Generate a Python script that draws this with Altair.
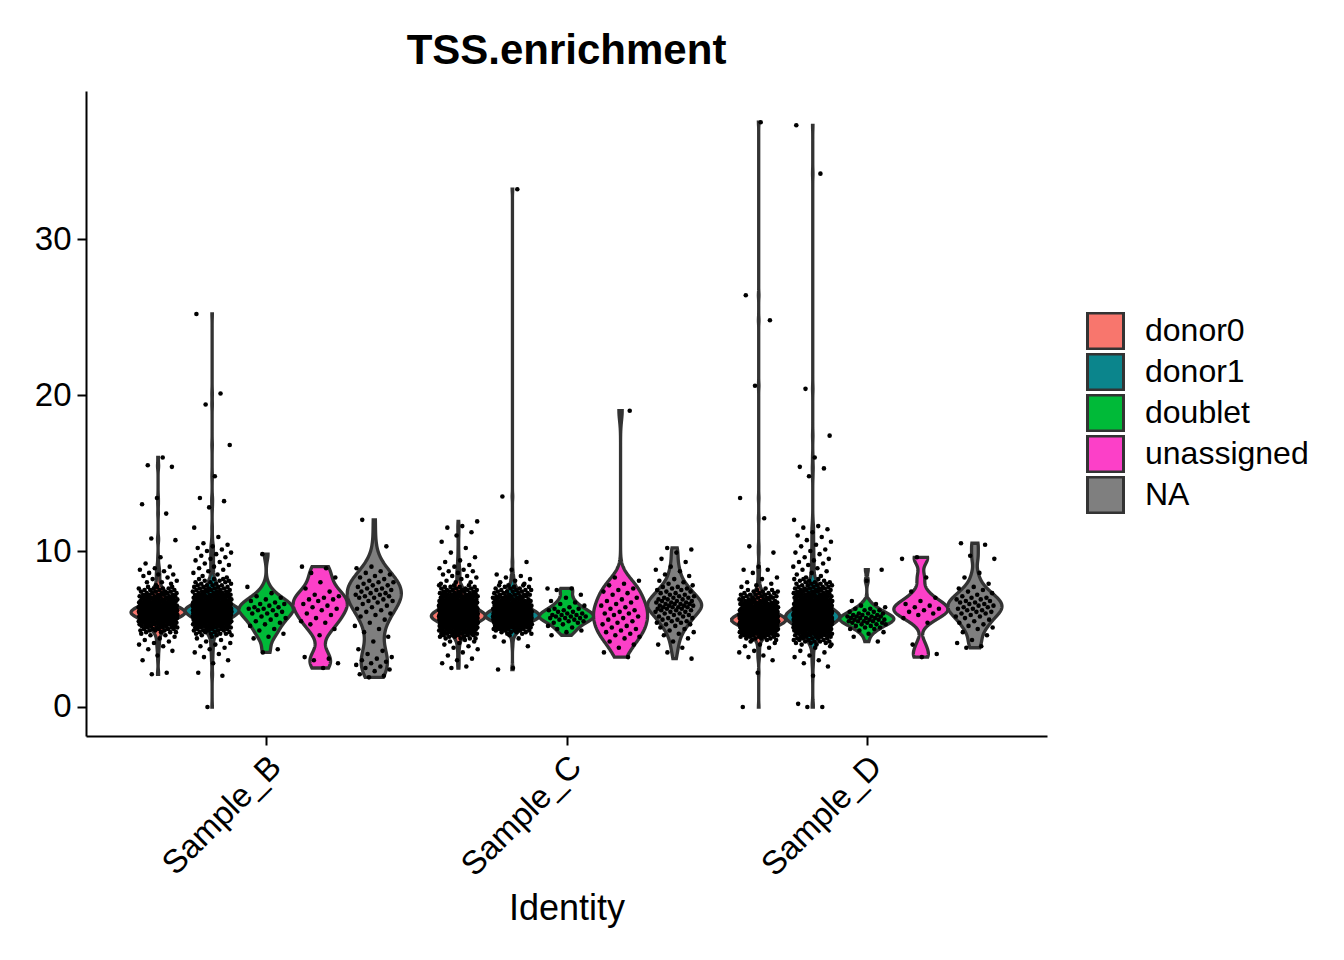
import json
import numpy as np
import pandas as pd
import altair as alt

# categories and colours
samples = ["Sample_B", "Sample_C", "Sample_D"]
groups = ["donor0", "donor1", "doublet", "unassigned", "NA"]
group_colors = ["#F8766D", "#0B858C", "#00BA38", "#FC40C8", "#7F7F7F"]

# TSS.enrichment per cell.
# The big donor groups are given as scattered cells + a binned core (value, number of cells).
b_donor0 = [16.0, 15.5, 15.4, 13.4, 13.0, 12.4, 10.8, 10.7, 9.6, 9.2, 9.0, 8.9, 8.8, 8.7, 8.6, 8.5, 8.5, 8.4, 8.3, 8.2,
            8.1, 8.0, 8.0, 7.9, 7.8, 4.7, 4.6, 4.6, 4.5, 4.4, 4.3, 4.2, 4.1, 4.0, 3.9, 3.7, 3.6, 3.3, 3.0, 2.2, 2.1]
b_donor0_core = [4.8, 4.9, 5.0, 5.1, 5.2, 5.3, 5.4, 5.5, 5.6, 5.7, 5.8, 5.9, 6.0, 6.1, 6.2,
                 6.3, 6.4, 6.5, 6.6, 6.7, 6.8, 6.9, 7.0, 7.1, 7.2, 7.3, 7.4, 7.5, 7.6, 7.7]
b_donor0_n = [4, 4, 5, 5, 6, 7, 8, 9, 11, 13, 16, 19, 22, 22, 20,
              17, 14, 12, 10, 9, 8, 7, 6, 6, 5, 5, 4, 4, 4, 3]

b_donor1 = [25.2, 20.1, 19.4, 16.8, 14.8, 13.4, 13.2, 12.8, 11.5, 10.9, 10.5, 10.4, 10.3, 10.2, 10.1, 10.0, 9.9, 9.8,
            9.7, 9.6, 9.5, 9.4, 9.3, 9.2, 9.1, 9.0, 8.9, 8.8, 8.7, 8.6, 8.5, 8.4, 8.3,
            4.5, 4.4, 4.3, 4.2, 4.1, 4.0, 3.9, 3.8, 3.7, 3.5, 3.4, 3.2, 3.0, 2.8, 2.2, 2.0, 0.0]
b_donor1_core = [4.6, 4.7, 4.8, 4.9, 5.0, 5.1, 5.2, 5.3, 5.4, 5.5, 5.6, 5.7, 5.8, 5.9, 6.0, 6.1, 6.2, 6.3, 6.4,
                 6.5, 6.6, 6.7, 6.8, 6.9, 7.0, 7.1, 7.2, 7.3, 7.4, 7.5, 7.6, 7.7, 7.8, 7.9, 8.0, 8.1, 8.2]
b_donor1_n = [3, 4, 4, 5, 5, 6, 7, 8, 9, 10, 12, 14, 16, 18, 21, 23, 24, 23, 20,
              17, 14, 12, 10, 9, 8, 7, 6, 6, 5, 5, 4, 4, 4, 3, 3, 3, 3]

b_doublet = [9.8, 7.7, 7.3, 7.1, 7.0, 6.9, 6.8, 6.7, 6.6, 6.6, 6.5, 6.4, 6.4, 6.3, 6.3, 6.2, 6.2, 6.1,
             6.0, 6.0, 5.9, 5.8, 5.7, 5.6, 5.5, 5.4, 5.3, 5.2, 5.0, 4.9, 4.7, 4.5, 4.4, 3.7, 3.5]
b_unassigned = [9.0, 8.9, 8.6, 8.3, 8.0, 7.6, 7.4, 7.2, 7.1, 7.0, 6.9, 6.9, 6.8, 6.6, 6.5, 6.4,
                6.3, 6.2, 6.0, 5.9, 5.7, 5.5, 5.4, 5.3, 5.0, 4.6, 3.2, 3.1, 3.0, 2.8, 2.5]
b_na = [12.0, 10.3, 9.0, 8.9, 8.7, 8.6, 8.5, 8.4, 8.3, 8.2, 8.1, 8.0, 8.0, 7.9, 7.8, 7.8, 7.7, 7.6, 7.6, 7.5,
        7.5, 7.4, 7.3, 7.3, 7.2, 7.2, 7.1, 7.1, 7.0, 7.0, 6.9, 6.8, 6.8, 6.7, 6.6, 6.5, 6.4, 6.3, 6.2, 6.1,
        6.0, 5.9, 5.8, 5.6, 5.4, 5.2, 5.0, 4.8, 4.5, 4.2, 3.7, 3.6, 3.4, 3.2, 3.1, 3.0, 2.9, 2.8, 2.7, 2.6,
        2.5, 2.4, 2.3, 2.1, 2.0, 1.9]

c_donor0 = [11.9, 11.6, 11.5, 11.2, 11.0, 10.6, 10.2, 9.9, 9.6, 9.4, 9.3, 9.1, 9.0, 8.9, 8.8, 8.7, 8.7, 8.6, 8.5, 8.4,
            8.4, 8.3, 8.2, 8.1, 8.0, 8.0, 7.9, 4.3, 4.2, 4.2, 4.1, 4.0, 3.9, 3.8, 3.7, 3.5, 3.3, 3.1, 3.0, 2.8, 2.6, 2.5]
c_donor0_core = [4.4, 4.5, 4.6, 4.7, 4.8, 4.9, 5.0, 5.1, 5.2, 5.3, 5.4, 5.5, 5.6, 5.7, 5.8, 5.9, 6.0, 6.1,
                 6.2, 6.3, 6.4, 6.5, 6.6, 6.7, 6.8, 6.9, 7.0, 7.1, 7.2, 7.3, 7.4, 7.5, 7.6, 7.7, 7.8]
c_donor0_n = [4, 4, 5, 6, 7, 8, 9, 10, 12, 14, 16, 19, 22, 25, 27, 26, 24, 21,
              18, 16, 14, 12, 11, 10, 9, 8, 7, 7, 6, 6, 5, 5, 4, 4, 3]

c_donor1 = [33.2, 13.5, 9.3, 8.8, 8.5, 8.4, 8.3, 8.2, 8.1, 8.0, 7.9, 4.6, 4.5, 4.4, 4.2, 3.9, 2.5, 2.4]
c_donor1_core = [4.7, 4.8, 4.9, 5.0, 5.1, 5.2, 5.3, 5.4, 5.5, 5.6, 5.7, 5.8, 5.9, 6.0, 6.1, 6.2,
                 6.3, 6.4, 6.5, 6.6, 6.7, 6.8, 6.9, 7.0, 7.1, 7.2, 7.3, 7.4, 7.5, 7.6, 7.7, 7.8]
c_donor1_n = [3, 4, 5, 6, 7, 8, 10, 12, 14, 17, 20, 22, 22, 20, 17, 15,
              13, 11, 10, 9, 8, 7, 6, 6, 5, 5, 4, 4, 4, 3, 3, 3]

c_doublet = [7.6, 7.6, 7.5, 7.2, 7.0, 6.8, 6.7, 6.6, 6.5, 6.4, 6.3, 6.3, 6.2, 6.2, 6.1, 6.1, 6.0, 6.0, 5.9, 5.9,
             5.9, 5.8, 5.8, 5.8, 5.7, 5.7, 5.7, 5.6, 5.6, 5.5, 5.5, 5.4, 5.4, 5.3, 5.2, 5.1, 5.0, 4.9, 4.8, 4.6]
c_unassigned = [19.0, 8.3, 8.1, 7.9, 7.8, 7.6, 7.5, 7.4, 7.3, 7.2, 7.0, 6.9, 6.8, 6.7, 6.6, 6.5, 6.4, 6.3, 6.2, 6.1,
                6.0, 6.0, 5.9, 5.8, 5.7, 5.6, 5.5, 5.4, 5.3, 5.2, 5.1, 5.0, 4.9, 4.8, 4.7, 4.6, 4.5, 4.4, 4.2, 4.0,
                3.8, 3.5, 3.2]
c_na = [10.2, 10.1, 9.9, 9.5, 9.3, 9.0, 8.8, 8.7, 8.5, 8.4, 8.2, 8.1, 8.0, 7.9, 7.8, 7.7, 7.7, 7.6, 7.6, 7.5,
        7.5, 7.4, 7.4, 7.3, 7.3, 7.2, 7.2, 7.1, 7.1, 7.0, 7.0, 7.0, 6.9, 6.9, 6.9, 6.8, 6.8, 6.8, 6.7, 6.7,
        6.7, 6.6, 6.6, 6.6, 6.6, 6.5, 6.5, 6.5, 6.5, 6.4, 6.4, 6.4, 6.4, 6.3, 6.3, 6.3, 6.2, 6.2, 6.2, 6.1,
        6.1, 6.1, 6.0, 6.0, 5.9, 5.9, 5.8, 5.8, 5.7, 5.7, 5.6, 5.6, 5.5, 5.5, 5.4, 5.4, 5.3, 5.3, 5.2, 5.1,
        5.0, 4.9, 4.8, 4.7, 4.6, 4.4, 4.2, 4.0, 3.8, 3.5, 3.1]

d_donor0 = [37.5, 26.4, 24.8, 20.6, 13.4, 12.1, 10.3, 9.9, 9.0, 8.8, 8.8, 8.6, 8.3, 8.2, 8.0, 7.9, 7.8, 7.7, 7.6,
            4.2, 4.1, 4.0, 3.9, 3.8, 3.6, 3.5, 3.3, 3.2, 3.0, 2.2, 0.0]
d_donor0_core = [4.3, 4.4, 4.5, 4.6, 4.7, 4.8, 4.9, 5.0, 5.1, 5.2, 5.3, 5.4, 5.5, 5.6, 5.7, 5.8, 5.9,
                 6.0, 6.1, 6.2, 6.3, 6.4, 6.5, 6.6, 6.7, 6.8, 6.9, 7.0, 7.1, 7.2, 7.3, 7.4, 7.5]
d_donor0_n = [3, 4, 5, 6, 7, 8, 9, 11, 13, 15, 18, 21, 24, 25, 23, 20, 17,
              15, 13, 11, 10, 9, 8, 7, 6, 6, 5, 5, 4, 4, 4, 3, 3]

d_donor1 = [37.3, 34.2, 20.4, 17.4, 16.0, 15.4, 15.3, 14.8, 12.0, 11.6, 11.5, 11.4, 11.2, 11.0, 10.9, 10.7, 10.6, 10.4,
            10.3, 10.1, 10.0, 9.9, 9.8, 9.6, 9.5, 9.4, 9.3, 9.2, 9.1, 9.0, 8.9, 8.8, 8.7, 8.6, 8.5, 8.4, 8.3,
            3.9, 3.8, 3.6, 3.5, 3.3, 3.2, 3.0, 2.8, 2.6, 2.0, 0.2, 0.0, 0.0]
d_donor1_core = [4.0, 4.1, 4.2, 4.3, 4.4, 4.5, 4.6, 4.7, 4.8, 4.9, 5.0, 5.1, 5.2, 5.3, 5.4, 5.5, 5.6, 5.7, 5.8, 5.9, 6.0,
                 6.1, 6.2, 6.3, 6.4, 6.5, 6.6, 6.7, 6.8, 6.9, 7.0, 7.1, 7.2, 7.3, 7.4, 7.5, 7.6, 7.7, 7.8, 7.9, 8.0,
                 8.1, 8.2]
d_donor1_n = [3, 3, 4, 4, 5, 5, 6, 7, 8, 9, 10, 11, 13, 15, 17, 19, 21, 23, 24, 23, 21,
              19, 17, 15, 13, 12, 11, 10, 9, 8, 7, 7, 6, 6, 5, 5, 5, 4, 4, 4, 3,
              3, 3]

d_doublet = [8.8, 8.1, 6.8, 6.6, 6.5, 6.4, 6.3, 6.3, 6.2, 6.2, 6.1, 6.1, 6.0, 6.0, 6.0, 5.9, 5.9, 5.9, 5.8, 5.8,
             5.8, 5.8, 5.7, 5.7, 5.7, 5.7, 5.6, 5.6, 5.6, 5.6, 5.5, 5.5, 5.5, 5.5, 5.4, 5.4, 5.4, 5.3, 5.3, 5.3,
             5.2, 5.2, 5.1, 5.1, 5.0, 5.0, 4.9, 4.8, 4.7, 4.5, 4.2]
d_unassigned = [9.6, 9.5, 8.3, 7.4, 7.0, 6.8, 6.6, 6.5, 6.4, 6.3, 6.2, 6.1, 6.0, 5.9, 5.7, 5.4, 4.0, 3.4, 3.2]
d_na = [10.5, 10.4, 9.7, 9.5, 8.6, 8.3, 7.9, 7.7, 7.6, 7.5, 7.4, 7.3, 7.2, 7.1, 7.0, 7.0, 6.9, 6.9, 6.8, 6.8,
        6.7, 6.7, 6.6, 6.6, 6.5, 6.5, 6.4, 6.4, 6.3, 6.3, 6.2, 6.2, 6.1, 6.1, 6.0, 6.0, 5.9, 5.8, 5.8, 5.7,
        5.6, 5.5, 5.4, 5.3, 5.2, 5.1, 5.0, 4.8, 4.6, 4.3, 4.1, 3.9, 3.8]


def with_core(scattered, core, counts):
    return list(scattered) + list(np.repeat(core, counts))


cells = {
    ("Sample_B", "donor0"): with_core(b_donor0, b_donor0_core, b_donor0_n),
    ("Sample_B", "donor1"): with_core(b_donor1, b_donor1_core, b_donor1_n),
    ("Sample_B", "doublet"): b_doublet,
    ("Sample_B", "unassigned"): b_unassigned,
    ("Sample_B", "NA"): b_na,
    ("Sample_C", "donor0"): with_core(c_donor0, c_donor0_core, c_donor0_n),
    ("Sample_C", "donor1"): with_core(c_donor1, c_donor1_core, c_donor1_n),
    ("Sample_C", "doublet"): c_doublet,
    ("Sample_C", "unassigned"): c_unassigned,
    ("Sample_C", "NA"): c_na,
    ("Sample_D", "donor0"): with_core(d_donor0, d_donor0_core, d_donor0_n),
    ("Sample_D", "donor1"): with_core(d_donor1, d_donor1_core, d_donor1_n),
    ("Sample_D", "doublet"): d_doublet,
    ("Sample_D", "unassigned"): d_unassigned,
    ("Sample_D", "NA"): d_na,
}


# violin outline like geom_violin(scale="width", trim=TRUE): gaussian kde, bw.nrd0
def violin_profile(vals, n=300):
    v = np.asarray(vals, dtype=float)
    q75, q25 = np.percentile(v, [75, 25])
    lo = min(v.std(ddof=1), (q75 - q25) / 1.34)
    bw = 0.9 * lo * len(v) ** -0.2
    grid = np.linspace(v.min(), v.max(), n)
    dens = np.exp(-0.5 * ((grid[:, None] - v[None, :]) / bw) ** 2).sum(axis=1)
    return grid, dens / dens.max()


point_rows = []
violin_rows = []
for (s, g), vals in cells.items():
    for v in vals:
        point_rows.append({"sample": s, "group": g, "value": float(v)})
    ys, ws = violin_profile(vals)
    for y, w in zip(ys, ws):
        violin_rows.append({"sample": s, "group": g, "y": float(y), "w": float(w)})

points_df = pd.DataFrame(point_rows)
violin_df = pd.DataFrame(violin_rows)

# dodge position of each violin: sample index + offset of the group (5 groups in 0.9 units)
center_expr = (f"indexof({json.dumps(samples)}, datum.sample)"
               f" + (indexof({json.dumps(groups)}, datum.group) - 2) * 0.18")

x_scale = alt.Scale(domain=[-0.6, 2.6], nice=False, zero=False)
y_scale = alt.Scale(domain=[-1.86, 39.5], nice=False, zero=False)

x_axis = alt.Axis(
    values=[0, 1, 2], labelExpr=f"{json.dumps(samples)}[datum.value]",
    labelAngle=315, labelAlign="right", labelBaseline="top", labelFontSize=33, labelColor="black",
    labelOffset=-2, labelPadding=5, labelOverlap=False, labelFlush=False,
    tickSize=9, tickWidth=2, tickColor="black", domainColor="black", domainWidth=2, grid=False,
    title="Identity", titleFontSize=36, titleFontWeight="normal", titleColor="black", titlePadding=9,
)
y_axis = alt.Axis(
    values=[0, 10, 20, 30], format="d", labelFontSize=33, labelColor="black", labelPadding=6,
    tickSize=9, tickWidth=2, tickColor="black", domainColor="black", domainWidth=2, grid=False, title=None,
)

violins = alt.Chart(violin_df).transform_calculate(
    center=center_expr,
    key="datum.sample + '|' + datum.group",
).transform_calculate(
    x_lo="datum.center - datum.w * 0.09",
    x_hi="datum.center + datum.w * 0.09",
).mark_area(orient="horizontal", stroke="#333333", strokeWidth=3.3, opacity=1).encode(
    y=alt.Y("y:Q", scale=y_scale, axis=y_axis),
    x=alt.X("x_lo:Q", scale=x_scale, axis=x_axis),
    x2="x_hi:Q",
    fill=alt.Fill("group:N", scale=alt.Scale(domain=groups, range=group_colors), legend=alt.Legend(
        title=None, orient="none", legendX=1000, legendY=221, padding=0,
        symbolType="square", symbolSize=1296, symbolStrokeWidth=3, symbolStrokeColor="#333333",
        symbolOpacity=1, labelFontSize=32, labelColor="black", labelOffset=20, labelLimit=300,
        clipHeight=38, rowPadding=3,
    )),
    detail="key:N",
)

# jitter: spread points over +/- 0.065 units with a golden-ratio sequence on the row number
jittered = alt.Chart(points_df).transform_window(
    idx="row_number()"
).transform_calculate(
    xpos=f"{center_expr} + ((datum.idx * 0.6180339887) % 1 - 0.5) * 0.13"
).mark_circle(size=21, color="black", opacity=1).encode(
    x=alt.X("xpos:Q", scale=x_scale, axis=x_axis),
    y=alt.Y("value:Q", scale=y_scale, axis=y_axis),
)

chart = alt.layer(violins, jittered).properties(
    width=961,
    height=645,
    padding={"left": 26, "top": 22, "right": 10, "bottom": 10},
    title=alt.TitleParams("TSS.enrichment", fontSize=42, fontWeight="bold", color="black",
                          anchor="middle", offset=18),
).configure(
    font="Liberation Sans",
).configure_view(
    stroke="transparent",
)

chart.save("out.html", embed_options={"renderer": "svg", "actions": False})
